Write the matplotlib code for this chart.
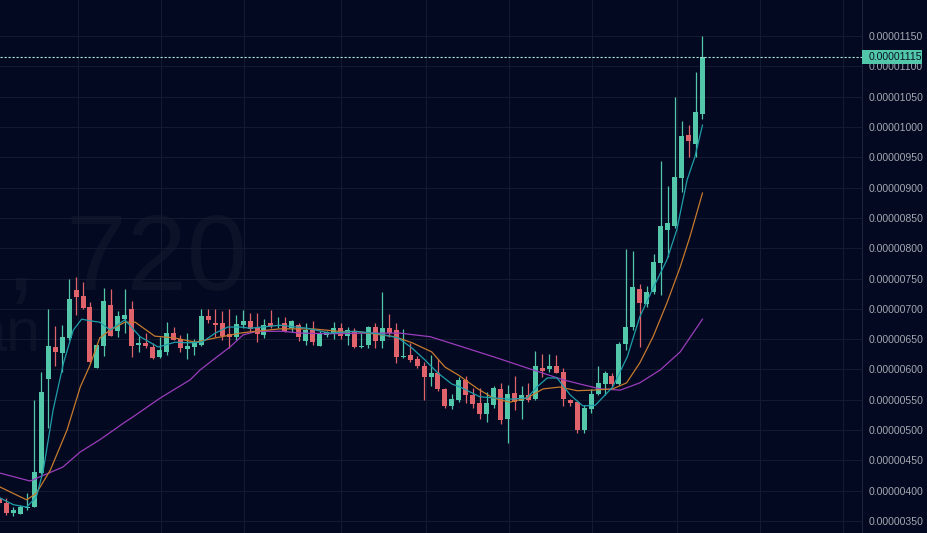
import numpy as np
import matplotlib
matplotlib.use("Agg")
import matplotlib.pyplot as plt
import matplotlib.transforms as mtransforms
import matplotlib.patches as mpatches
from matplotlib.ticker import FixedLocator, FuncFormatter
from matplotlib import font_manager

SCALE = 1e-8  # values below are in units of 0.00000001

opens = [387, 379, 364, 362, 371, 374, 430, 584, 637, 628, 652, 731, 722, 703, 603, 639, 707, 663, 683, 700,
         641, 644, 637, 620, 629, 660, 650, 634, 637, 640, 688, 677, 677, 658, 654, 673, 680, 670, 657, 677,
         672, 677, 668, 673, 647, 665, 639, 657, 659, 669, 656, 663, 637, 640, 670, 647, 668, 665, 621, 624,
         617, 605, 588, 594, 567, 539, 549, 583, 558, 544, 527, 541, 568, 518, 562, 548, 558, 552, 603, 600,
         606, 596, 550, 547, 500, 535, 560, 576, 590, 576, 642, 670, 732, 708, 727, 775, 830, 836, 916, 987,
         972, 1021]
highs = [391, 388, 373, 376, 396, 550, 596, 699, 672, 673, 749, 752, 745, 712, 640, 734, 732, 697, 732, 713,
         655, 660, 643, 654, 678, 670, 657, 660, 651, 700, 699, 700, 696, 699, 690, 698, 693, 693, 684, 698,
         687, 687, 681, 676, 676, 680, 664, 664, 679, 676, 670, 668, 660, 671, 676, 727, 692, 677, 666, 644,
         623, 613, 624, 618, 570, 560, 588, 590, 570, 570, 563, 572, 577, 574, 590, 572, 577, 630, 625, 625,
         624, 602, 552, 548, 542, 567, 605, 598, 594, 646, 798, 796, 741, 737, 790, 944, 902, 1050, 1010, 1004,
         1090, 1150]
lows = [376, 360, 359, 361, 368, 373, 428, 503, 606, 596, 649, 690, 699, 611, 603, 622, 655, 654, 660, 620,
        629, 635, 618, 619, 624, 648, 629, 618, 624, 639, 676, 654, 649, 635, 649, 668, 662, 645, 652, 669,
        669, 662, 661, 647, 640, 640, 638, 654, 651, 651, 640, 636, 635, 636, 636, 636, 653, 611, 619, 613,
        602, 549, 573, 565, 536, 534, 547, 544, 536, 519, 514, 537, 510, 478, 533, 519, 547, 549, 588, 596,
        594, 539, 539, 495, 495, 529, 558, 558, 572, 575, 632, 665, 637, 703, 725, 723, 786, 834, 893, 951,
        950, 1013]
closes = [379, 364, 368, 373, 374, 431, 563, 639, 629, 654, 716, 720, 702, 613, 640, 713, 656, 688, 690, 638,
          644, 638, 619, 632, 660, 649, 636, 639, 643, 688, 682, 673, 656, 654, 675, 680, 667, 659, 674, 672,
          674, 664, 680, 654, 665, 645, 659, 661, 669, 656, 665, 637, 639, 670, 647, 668, 660, 621, 623, 616,
          606, 588, 594, 567, 539, 551, 583, 558, 543, 527, 544, 569, 517, 559, 547, 558, 550, 605, 597, 606,
          595, 552, 545, 500, 537, 560, 577, 595, 576, 642, 670, 736, 709, 728, 777, 837, 842, 918, 985, 977,
          1025, 1115]

# moving averages (candle index, value)
fast_idx = [0.1, 2.0, 3.9, 5.3, 6.3, 7.7, 9.2, 10.6, 11.8, 13.2, 14.4, 15.9, 18.0, 20.2, 22.8, 25.2, 27.1,
            29.1, 31.0, 32.8, 34.6, 36.0, 40.3, 44.2, 47.5, 51.1, 54.4, 57.3, 59.3, 61.1, 63.0, 65.0, 66.2,
            69.0, 73.3, 75.8, 77.2, 78.7, 80.1, 82.0, 83.8, 85.6, 88.1, 90.2, 92.0, 93.9, 95.9, 97.3, 98.8,
            99.9, 101.0]
fast_val = [388, 377, 373, 390, 434, 533, 611, 665, 683, 680, 678, 665, 682, 654, 637, 645, 644, 645, 660,
            670, 670, 668, 673, 668, 660, 663, 659, 652, 635, 616, 594, 576, 571, 555, 551, 553, 571, 586,
            586, 558, 540, 541, 571, 621, 687, 734, 781, 830, 913, 950, 1003]
mid_idx = [0.1, 3.9, 5.3, 7.3, 9.7, 11.6, 13.0, 14.4, 15.9, 18.0, 19.5, 22.3, 25.2, 28.1, 31.0, 34.6, 36.0,
           40.3, 45.0, 49.6, 51.1, 56.8, 59.3, 62.1, 64.0, 65.9, 68.6, 70.9, 73.3, 75.8, 78.1, 80.5, 83.0,
           85.3, 88.1, 90.1, 92.0, 93.9, 95.9, 97.8, 99.2, 101.0]
mid_val = [406, 385, 396, 434, 500, 571, 607, 652, 665, 678, 678, 655, 652, 645, 652, 660, 662, 667, 667,
           662, 663, 654, 644, 629, 604, 591, 569, 553, 546, 553, 568, 571, 565, 566, 568, 578, 611, 654,
           710, 769, 819, 891]
slow_idx = [0.1, 4.4, 5.8, 9.1, 11.6, 14.4, 18.0, 19.2, 23.1, 27.4, 28.8, 30.7, 33.1, 35.0, 37.0, 40.7,
            43.2, 47.5, 52.8, 57.5, 61.9, 66.6, 71.5, 76.2, 81.0, 83.4, 86.3, 89.2, 92.0, 94.9, 97.8, 101.0]
slow_val = [429, 416, 423, 439, 464, 484, 513, 522, 553, 583, 599, 616, 637, 657, 663, 663, 660, 659, 660,
            660, 654, 637, 619, 601, 583, 576, 568, 566, 578, 599, 629, 683]

price_ticks = list(range(350, 1151, 50))
last_price = 1115
grid_x = [11.3, 23.2, 35.1, 49.1, 61.3, 73.2, 85.1, 97.3, 109.3, 121.2]
watermark = ", 720"
watermark2 = "an"

BG = '#030920'
UP = '#52c7aa'
DOWN = '#e0636b'
GRID = '#131b31'
TXT = '#a4a8b1'

names = {f.name for f in font_manager.fontManager.ttflist}
WM_FONT = 'Liberation Sans Narrow' if 'Liberation Sans Narrow' in names else 'Liberation Sans'
WM_SIZE = 92 if WM_FONT == 'Liberation Sans Narrow' else 78

fig = plt.figure(figsize=(9.27, 5.33), dpi=100, facecolor=BG)
ax = fig.add_axes([0, 0, 862 / 927, 1], facecolor=BG)
ax.set_xlim(0.072, 123.92)
ax.set_ylim(330.3 * SCALE, 1209.4 * SCALE)

# watermark
ax.text(247 / 927, 1 - 290 / 533, watermark, transform=fig.transFigure, ha='right', va='baseline',
        fontsize=WM_SIZE, color='#0c1329', family=WM_FONT, zorder=0.2)
ax.text(40 / 927, 1 - 352 / 533, watermark2, transform=fig.transFigure, ha='right', va='baseline',
        fontsize=44, color='#0c1329', family=WM_FONT, zorder=0.2)

# grid
for t in price_ticks:
    ax.axhline(t * SCALE, color=GRID, lw=0.8, zorder=0.5)
for gx in grid_x:
    ax.axvline(gx, color=GRID, lw=0.8, zorder=0.5)

o = np.array(opens, float) * SCALE
h = np.array(highs, float) * SCALE
l = np.array(lows, float) * SCALE
c = np.array(closes, float) * SCALE
x = np.arange(len(opens))
up = c >= o
cols = np.where(up, UP, DOWN)
ax.vlines(x, l, h, colors=cols, lw=0.9, zorder=2)
bottom = np.minimum(o, c)
height = np.maximum(np.abs(c - o), 2 * SCALE)
ax.bar(x, height, bottom=bottom, width=0.72, color=cols, linewidth=0, zorder=3)

ax.plot(slow_idx, np.array(slow_val) * SCALE, color='#9b3cbc', lw=0.9, zorder=4)
ax.plot(mid_idx, np.array(mid_val) * SCALE, color='#c77a2e', lw=0.9, zorder=4)
ax.plot(fast_idx, np.array(fast_val) * SCALE, color='#1f9eaa', lw=0.9, zorder=4)

# last price line + label
ax.axhline(last_price * SCALE, color='#a8e6d8', lw=0.8, linestyle=(0, (2, 1.6)), zorder=5)
blend = mtransforms.blended_transform_factory(ax.transAxes, ax.transData)
ax.add_patch(mpatches.Rectangle((1.0, (last_price - 11.5) * SCALE), 60 / 862, 23 * SCALE,
                                transform=blend, facecolor=UP, edgecolor='none', clip_on=False, zorder=10))
ax.text(1.0 + 7 / 862, last_price * SCALE, f"{last_price * SCALE:.8f}", transform=blend, ha='left',
        va='center', fontsize=7.6, family='Liberation Sans', color='#071424', clip_on=False, zorder=11)

ax.yaxis.tick_right()
ax.yaxis.set_major_locator(FixedLocator([t * SCALE for t in price_ticks]))
ax.yaxis.set_major_formatter(FuncFormatter(lambda v, _: f"{v:.8f}"))
ax.tick_params(axis='y', length=0, pad=5, labelsize=7.6, labelcolor=TXT)
for lab in ax.get_yticklabels():
    lab.set_family('Liberation Sans')
ax.set_xticks([])
for s in ['top', 'left', 'bottom']:
    ax.spines[s].set_visible(False)
ax.spines['right'].set_color('#1c2439')
ax.spines['right'].set_linewidth(0.8)

fig.savefig('out.png', dpi=100, facecolor=BG)
